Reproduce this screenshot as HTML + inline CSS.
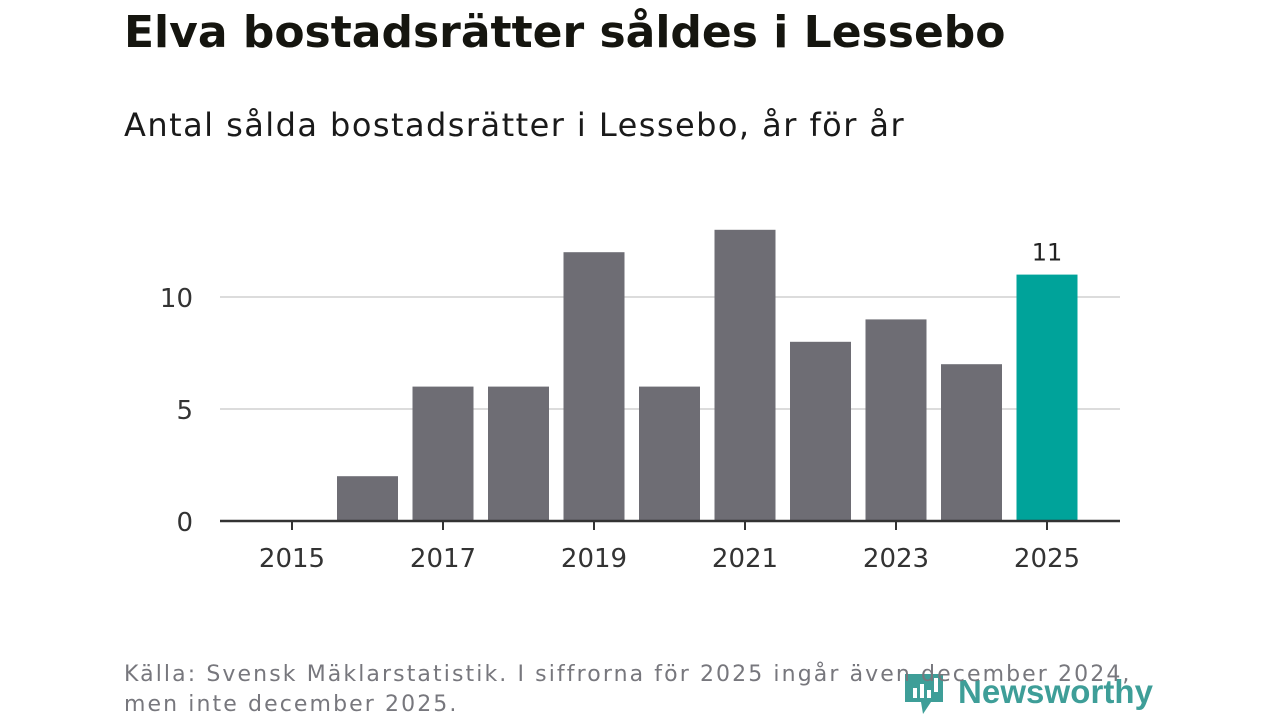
<!DOCTYPE html>
<html><head><meta charset="utf-8"><style>
body{margin:0;width:1280px;height:720px;background:#fff;overflow:hidden;position:relative;font-family:"DejaVu Sans","Liberation Sans",sans-serif}
#title{position:absolute;left:124px;top:7px;font-size:44px;font-weight:bold;color:#15150f;margin:0;letter-spacing:0px}
#sub{position:absolute;left:124px;top:106px;font-size:32px;color:#1a1a1a;letter-spacing:1.45px}
#src{position:absolute;left:124px;top:660px;font-size:22px;color:#77777d;line-height:30px;letter-spacing:2.1px}
#logo{position:absolute;left:903px;top:668px}
</style></head><body>
<h1 id="title">Elva bostadsrätter såldes i Lessebo</h1>
<div id="sub">Antal sålda bostadsrätter i Lessebo, år för år</div>
<svg id="chart" width="1280" height="720" style="position:absolute;left:0;top:0"></svg>
<svg id="logo" width="260" height="52">
<path d="M2 6h38v28h-12l-8 12l-2-12h-16z" fill="#3e9e98"/>
<rect x="10" y="20" width="4" height="10" fill="#fff"/><rect x="17" y="16" width="4" height="14" fill="#fff"/><rect x="24" y="22" width="4" height="8" fill="#fff"/><rect x="31" y="10" width="4" height="14" fill="#fff"/>
<text x="55" y="35" font-size="33" font-weight="bold" fill="#3e9e98" font-family="Liberation Sans, sans-serif" textLength="195">Newsworthy</text>
</svg>
<div id="src">Källa: Svensk Mäklarstatistik. I siffrorna för 2025 ingår även december 2024,<br>men inte december 2025.</div>
<script>
const years=[2015,2016,2017,2018,2019,2020,2021,2022,2023,2024,2025];
const values=[0,2,6,6,12,6,13,8,9,7,11];
const yTicks=[0,5,10];
const xTickLabels=[2015,2017,2019,2021,2023,2025];
const ns="http://www.w3.org/2000/svg",svg=document.getElementById('chart');
const x=i=>292+75.5*i, y=v=>521-22.4*v, bw=61;
function mk(t,a){const e=document.createElementNS(ns,t);for(const k in a)e.setAttribute(k,a[k]);svg.appendChild(e);return e;}
yTicks.forEach(v=>{
 if(v>0){const g=mk('line',{x1:220,x2:1120,y1:y(v),y2:y(v),stroke:'#dcdcdc','stroke-width':2});
 
 }
 const t=mk('text',{x:193,y:y(v)+10,'text-anchor':'end','font-size':26,fill:'#333','font-family':'DejaVu Sans, sans-serif'});t.textContent=v;
 
 
});
years.forEach((yr,i)=>{
 const v=values[i];
 const r=mk('rect',{x:x(i)-bw/2,y:y(v),width:bw,height:521-y(v),fill:i==years.length-1?'#00a39a':'#6e6d74'});
 
 
 if(xTickLabels.includes(yr)){
  mk('line',{x1:x(i),x2:x(i),y1:521,y2:530,stroke:'#333','stroke-width':2});
  const t=mk('text',{x:x(i),y:567,'text-anchor':'middle','font-size':26,fill:'#333','font-family':'DejaVu Sans, sans-serif'});t.textContent=yr;
  
  
 }
});
const last=values.length-1;
const lab=mk('text',{x:x(last),y:y(values[last])-14,'text-anchor':'middle','font-size':24,fill:'#222','font-family':'DejaVu Sans, sans-serif'});lab.textContent=values[last];


const ax=mk('line',{x1:220,x2:1120,y1:521,y2:521,stroke:'#333','stroke-width':2.5});


</script>
</body></html>
